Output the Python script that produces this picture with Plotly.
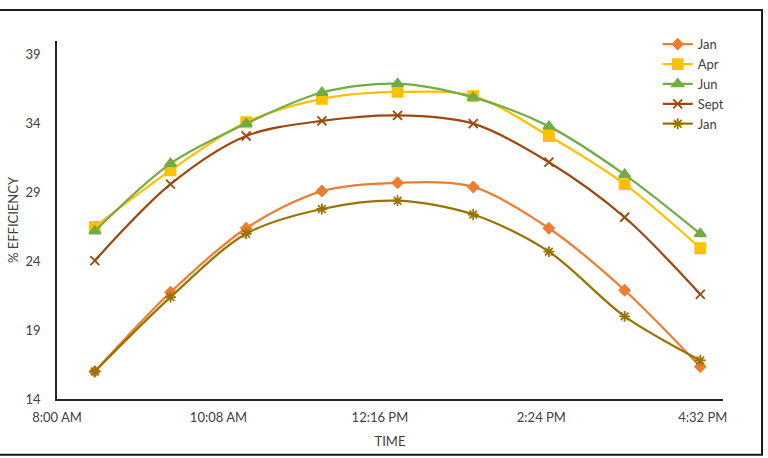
import plotly.graph_objects as go

times = ["2024-01-01 08:30", "2024-01-01 09:30", "2024-01-01 10:30", "2024-01-01 11:30",
         "2024-01-01 12:30", "2024-01-01 13:30", "2024-01-01 14:30", "2024-01-01 15:30",
         "2024-01-01 16:30"]

series_names = ["Jan", "Apr", "Jun", "Sept", "Jan"]
jan = [16.0, 21.75, 26.4, 29.1, 29.7, 29.4, 26.4, 21.9, 16.35]
apr = [26.5, 30.6, 34.1, 35.8, 36.3, 36.0, 33.1, 29.6, 24.95]
jun = [26.2, 31.1, 34.0, 36.26, 36.9, 35.9, 33.8, 30.3, 26.0]
sept = [24.05, 29.6, 33.1, 34.2, 34.6, 34.0, 31.2, 27.2, 21.6]
jan2 = [16.0, 21.4, 26.0, 27.8, 28.4, 27.4, 24.7, 20.0, 16.8]

values = [jan, apr, jun, sept, jan2]
colors = ["#ED7D31", "#FFC000", "#70AD47", "#9E480E", "#997300"]
symbols = ["diamond", "square", "triangle-up", "x-thin-open", "asterisk-open"]
sizes = [8, 10, 10, 9, 9]

font_family = "Lato, 'Open Sans', sans-serif"

fig = go.Figure()
for name, vals, col, sym, sz in zip(series_names, values, colors, symbols, sizes):
    fig.add_trace(go.Scatter(
        x=times, y=vals, name=name, mode="lines+markers",
        line=dict(color=col, width=2.25, shape="spline", smoothing=0.9),
        marker=dict(symbol=sym, size=sz, color=col, line=dict(color=col, width=1.8)),
    ))

fig.update_layout(
    width=768, height=458,
    margin=dict(l=57, r=45, t=41, b=59),
    paper_bgcolor="white", plot_bgcolor="white",
    font=dict(family=font_family, size=13, color="#404040"),
    showlegend=True,
    legend=dict(x=0.902, y=1.033, xanchor="left", yanchor="top",
                bgcolor="rgba(0,0,0,0)", font=dict(size=13, color="#404040"),
                tracegroupgap=0, itemwidth=30),
    xaxis=dict(
        type="date",
        range=["2024-01-01 08:00", "2024-01-01 16:48"],
        tick0="2024-01-01 08:00", dtick=128 * 60 * 1000,
        tickformat="%-I:%M %p",
        showgrid=False, zeroline=False, automargin=False,
        showline=True, linecolor="#262626", linewidth=1.5,
        ticks="", ticklabelstandoff=6,
        title=dict(text="TIME", font=dict(size=13, color="#404040"), standoff=13),
    ),
    yaxis=dict(
        range=[14, 40], tick0=14, dtick=5,
        showgrid=False, zeroline=False, automargin=False,
        showline=True, linecolor="#262626", linewidth=1.5,
        ticks="", ticklabelstandoff=12,
        title=dict(text="% EFFICIENCY", font=dict(size=13, color="#404040"), standoff=4),
    ),
    shapes=[dict(type="rect", xref="paper", yref="paper",
                 x0=-0.1, x1=1.0586, y0=-0.156, y1=1.0866,
                 line=dict(color="#1a1a1a", width=2), fillcolor="rgba(0,0,0,0)",
                 layer="below")],
)

fig.write_html("out.html")
